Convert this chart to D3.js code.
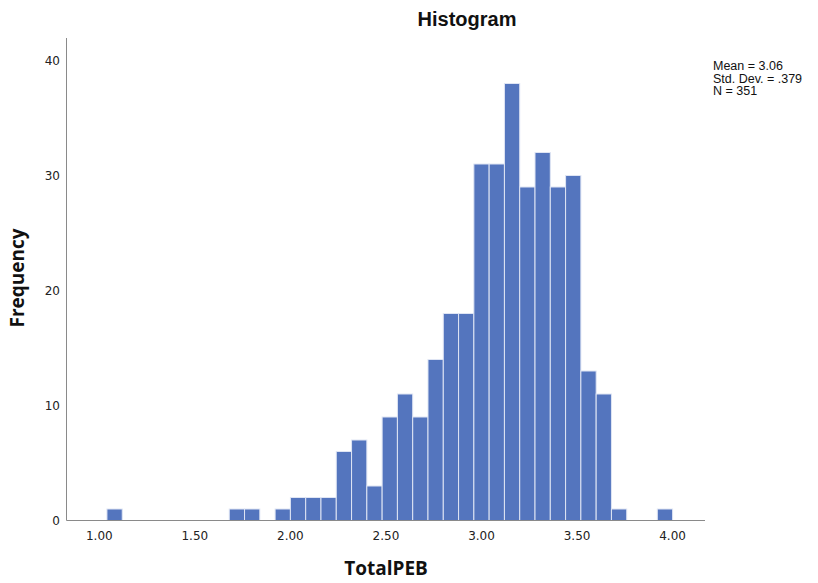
<!DOCTYPE html>
<html>
<head>
<meta charset="utf-8">
<script src="https://cdn.jsdelivr.net/npm/d3@7"></script>
<style>
	body { margin: 0; background: #fff; }
	svg { display: block; }
</style>
</head>
<body>
<script>
// Границы корзин: начало 1.04, шаг 0.08
var binStart = 1.04,
		binStep = 0.08;

// Частоты по корзинам (37 корзин, 1.04 .. 4.00)
var counts = [1, 0, 0, 0, 0, 0, 0, 0, 1, 1, 0, 1, 2, 2, 2, 6, 7, 3, 9, 11,
	9, 14, 18, 18, 31, 31, 38, 29, 32, 29, 30, 13, 11, 1, 0, 0, 1];

var xTicks = [1.00, 1.50, 2.00, 2.50, 3.00, 3.50, 4.00],
		yTicks = [0, 10, 20, 30, 40],
		statLines = ['Mean = 3.06', 'Std. Dev. = .379', 'N = 351'];

function ready() {
	var width = 818,
			height = 583,
			svg = d3.select('body')
				.append('svg')
				.attr('width', width)
				.attr('height', height);

	var x = d3.scaleLinear().domain([1, 4]).range([99.3, 672.6]),
			y = d3.scaleLinear().domain([0, 40]).range([520.5, 60.5]);

	var bins = counts.map(function(c, i) {
		return { x0: binStart + i * binStep, x1: binStart + (i + 1) * binStep, n: c };
	}).filter(function(d) { return d.n > 0; });

	// столбцы
	svg.append('g')
		.selectAll('rect')
		.data(bins)
		.enter()
		.append('rect')
		.attr('x', function(d) { return x(d.x0); })
		.attr('width', function(d) { return x(d.x1) - x(d.x0); })
		.attr('y', function(d) { return y(d.n); })
		.attr('height', function(d) { return y(0) - y(d.n); })
		.attr('fill', '#5475be')
		.attr('stroke', '#dfe5f4')
		.attr('stroke-width', 1);

	// оси
	svg.append('line')
		.attr('x1', 66.5).attr('x2', 66.5)
		.attr('y1', 38).attr('y2', y(0))
		.attr('stroke', '#8a8a8a');
	svg.append('line')
		.attr('x1', 66.5).attr('x2', 705)
		.attr('y1', y(0)).attr('y2', y(0))
		.attr('stroke', '#8a8a8a');

	var tickFont = '"DejaVu Sans", sans-serif';

	svg.append('g')
		.selectAll('text')
		.data(yTicks)
		.enter()
		.append('text')
		.attr('x', 60)
		.attr('y', function(d) { return y(d); })
		.attr('dy', '0.35em')
		.attr('text-anchor', 'end')
		.attr('font-family', tickFont)
		.attr('font-size', 12)
		.attr('fill', '#222')
		.text(function(d) { return d; });

	svg.append('g')
		.selectAll('text')
		.data(xTicks)
		.enter()
		.append('text')
		.attr('x', function(d) { return x(d); })
		.attr('y', 540)
		.attr('text-anchor', 'middle')
		.attr('font-family', tickFont)
		.attr('font-size', 12)
		.attr('fill', '#222')
		.text(function(d) { return d.toFixed(2); });

	// заголовки
	svg.append('text')
		.attr('x', 467)
		.attr('y', 26)
		.attr('text-anchor', 'middle')
		.attr('font-family', '"Liberation Sans", Arial, sans-serif')
		.attr('font-weight', 'bold')
		.attr('font-size', 20)
		.attr('fill', '#111')
		.text('Histogram');

	svg.append('text')
		.attr('x', 386)
		.attr('y', 575)
		.attr('text-anchor', 'middle')
		.attr('font-family', '"Open Sans", sans-serif')
		.attr('font-weight', 'bold')
		.attr('font-size', 19)
		.attr('fill', '#111')
		.text('TotalPEB');

	svg.append('text')
		.attr('transform', 'translate(24,278) rotate(-90)')
		.attr('text-anchor', 'middle')
		.attr('font-family', '"Open Sans", sans-serif')
		.attr('font-weight', 'bold')
		.attr('font-size', 19)
		.attr('fill', '#111')
		.text('Frequency');

	// статистика
	svg.append('g')
		.selectAll('text')
		.data(statLines)
		.enter()
		.append('text')
		.attr('x', 713)
		.attr('y', function(d, i) { return 70 + i * 12.5; })
		.attr('font-family', '"Liberation Sans", Arial, sans-serif')
		.attr('font-size', 12.5)
		.attr('fill', '#111')
		.text(function(d) { return d; });
}

window.onload = function() {
	ready();
};
</script>
</body>
</html>
